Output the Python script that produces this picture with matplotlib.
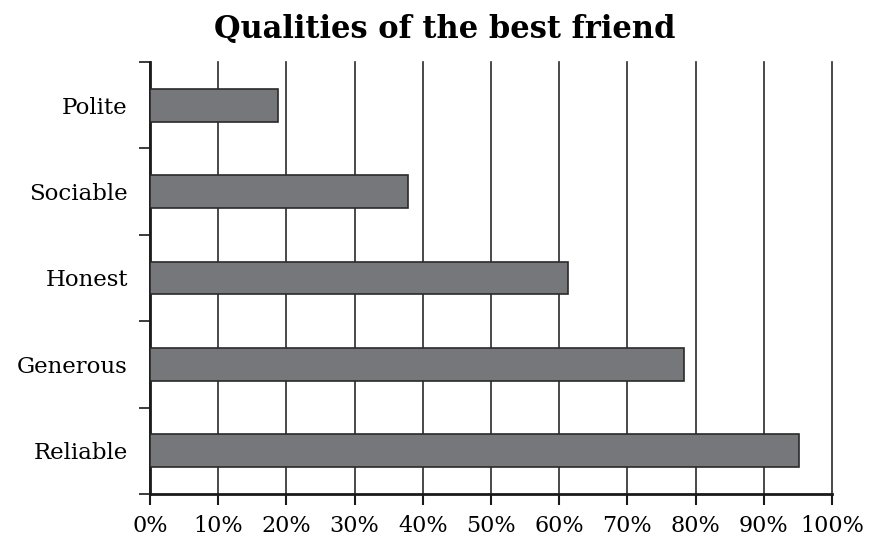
import numpy as np
import matplotlib
matplotlib.use('Agg')
import matplotlib.pyplot as plt
from matplotlib.ticker import FixedLocator, PercentFormatter

# survey results, top to bottom
qualities = ['Polite', 'Sociable', 'Honest', 'Generous', 'Reliable']
percent = [18.7, 37.9, 61.3, 78.3, 95.1]

x_ticks = list(range(0, 101, 10))

plt.rcParams['font.family'] = 'DejaVu Serif'
plt.rcParams['font.size'] = 12

fig = plt.figure(figsize=(8.89, 5.41), dpi=100)
ax = fig.add_axes([0.1687, 0.0869, 0.9359 - 0.1687, 0.8854 - 0.0869])

ypos = np.arange(len(qualities))
ax.barh(ypos, percent, height=0.38, color='#76777b', edgecolor='#2a2a2a',
        linewidth=1.2, zorder=3)

ax.set_xlim(0, 100)
ax.set_ylim(len(qualities) - 0.5, -0.5)

ax.set_xticks(x_ticks)
ax.xaxis.set_major_formatter(PercentFormatter(decimals=0))
ax.set_yticks(ypos)
ax.set_yticklabels(qualities)
ax.yaxis.set_minor_locator(FixedLocator(np.arange(-0.5, len(qualities), 1)))

ax.tick_params(axis='x', direction='out', length=8, width=1.5, pad=7,
               labelsize=16, color='#1a1a1a')
ax.tick_params(axis='y', which='major', length=0, pad=16, labelsize=16.5)
ax.tick_params(axis='y', which='minor', direction='out', length=8, width=1.2,
               color='#1a1a1a')

ax.grid(axis='x', color='#2a2a2a', linewidth=1.2, zorder=0)
for gl in ax.get_xgridlines():
    gl.set_clip_on(False)
ax.set_axisbelow(True)

for side in ['top', 'right']:
    ax.spines[side].set_visible(False)
for side in ['left', 'bottom']:
    ax.spines[side].set_linewidth(2)
    ax.spines[side].set_color('#1a1a1a')

fig.suptitle('Qualities of the best friend', fontsize=22, fontweight='bold',
             x=0.5, y=0.975, va='top')

fig.savefig('out.png', dpi=100)
